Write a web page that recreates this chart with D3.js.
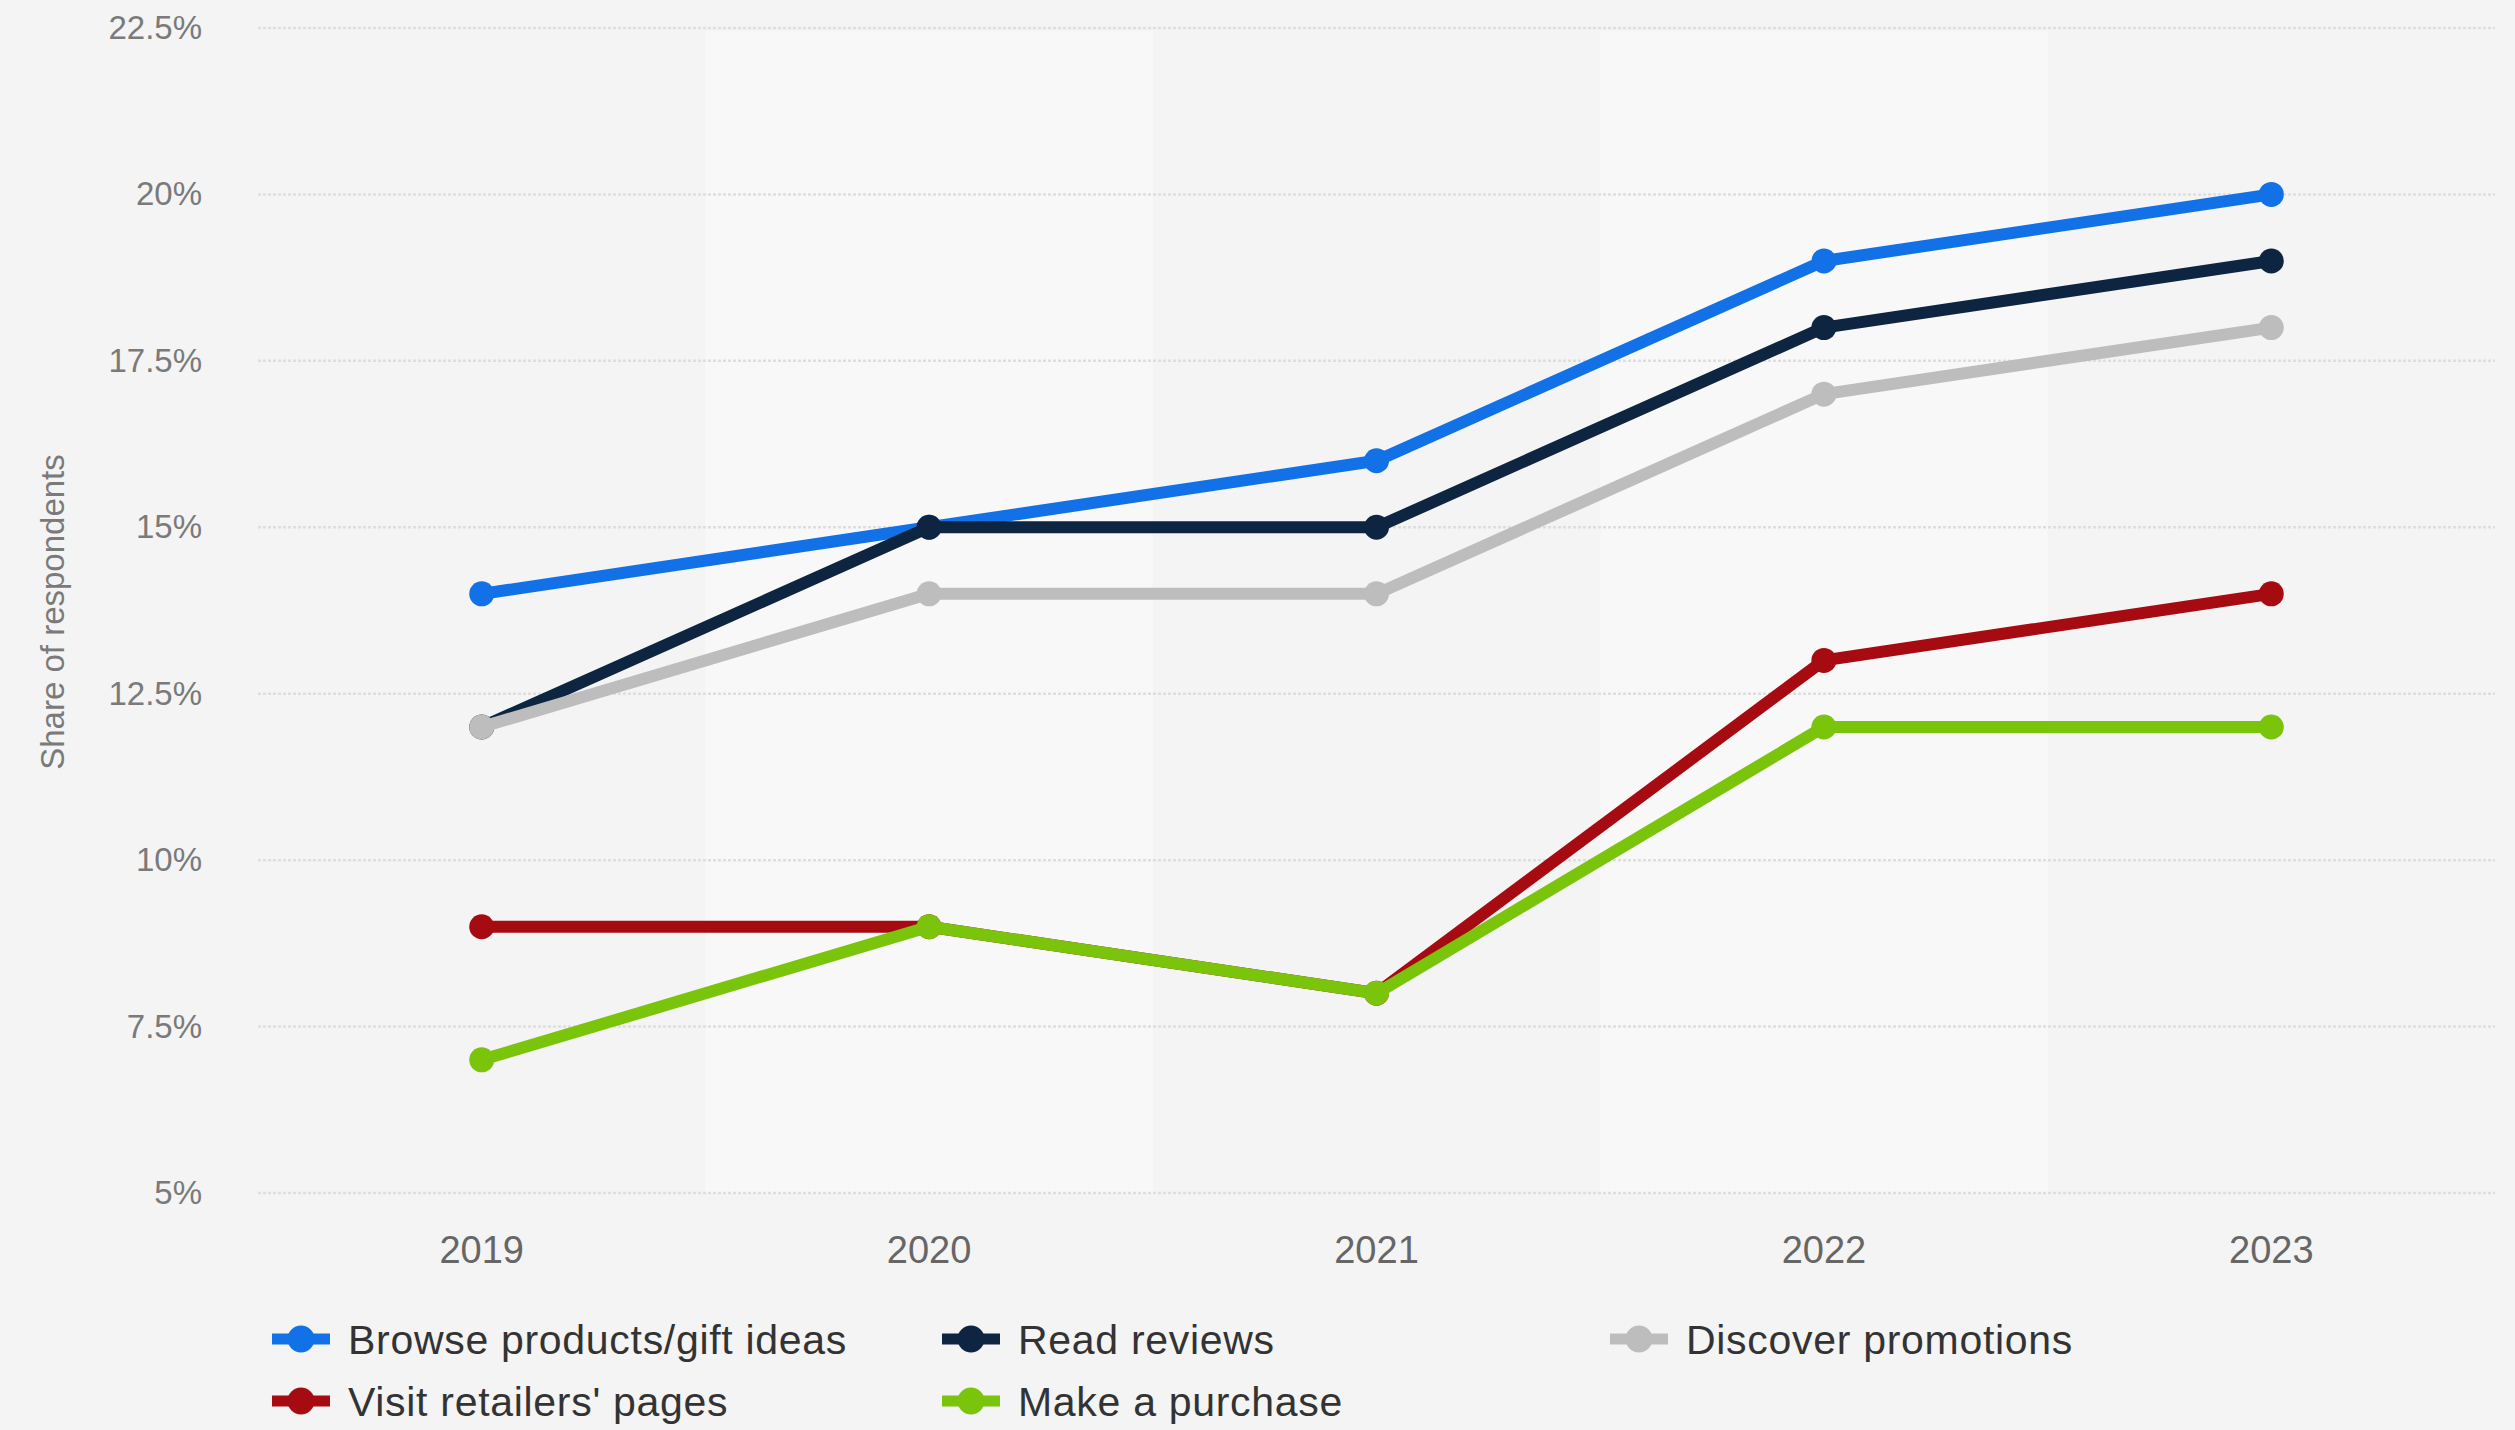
<!DOCTYPE html>
<html>
<head>
<meta charset="utf-8">
<script src="https://cdn.jsdelivr.net/npm/d3@7/dist/d3.min.js"></script>
<style>
  html, body { margin: 0; padding: 0; background: #f4f4f4; }
  svg { display: block; }
  text { font-family: "Liberation Sans", Arial, Helvetica, sans-serif; }
</style>
</head>
<body>
<svg id="chart" width="2515" height="1430"></svg>
<script>
// Survey years
const years = ["2019", "2020", "2021", "2022", "2023"];

// Share of respondents (%) per activity
const browseProducts   = [14, 15, 16, 19, 20];
const readReviews      = [12, 15, 15, 18, 19];
const discoverPromos   = [12, 14, 14, 17, 18];
const visitRetailers   = [9, 9, 8, 13, 14];
const makePurchase     = [7, 9, 8, 12, 12];

const seriesNames  = ["Browse products/gift ideas", "Read reviews", "Discover promotions", "Visit retailers' pages", "Make a purchase"];
const seriesValues = [browseProducts, readReviews, discoverPromos, visitRetailers, makePurchase];
const seriesColors = ["#1271e6", "#0e2541", "#bdbdbd", "#a70b12", "#7bc40c"];

// Y axis ticks
const yTicks = [5, 7.5, 10, 12.5, 15, 17.5, 20, 22.5];
const yTickLabels = ["5%", "7.5%", "10%", "12.5%", "15%", "17.5%", "20%", "22.5%"];

const svg = d3.select("#chart");
const W = 2515, H = 1430;
const plot = { left: 258, right: 2495, top: 28, bottom: 1193 };

svg.append("rect").attr("width", W).attr("height", H).attr("fill", "#f4f4f4");

const x = d3.scaleBand().domain(years).range([plot.left, plot.right]).padding(0);
const xc = d => x(d) + x.bandwidth() / 2;
const y = d3.scaleLinear().domain([5, 22.5]).range([plot.bottom, plot.top]);

// alternating column shading
svg.append("g").selectAll("rect")
  .data(years.filter((d, i) => i % 2 === 1))
  .join("rect")
  .attr("x", d => x(d))
  .attr("y", y(22.5) + 3)
  .attr("width", x.bandwidth())
  .attr("height", y(5) - y(22.5) - 3)
  .attr("fill", "#f8f8f8");

// horizontal gridlines
svg.append("g").selectAll("line")
  .data(yTicks)
  .join("line")
  .attr("x1", plot.left).attr("x2", plot.right)
  .attr("y1", d => y(d)).attr("y2", d => y(d))
  .attr("stroke", "#dedede")
  .attr("stroke-width", 2.5)
  .attr("stroke-dasharray", "3,2");

// y axis tick labels
const yAxis = d3.axisLeft(y).tickValues(yTicks)
  .tickFormat((d, i) => yTickLabels[i]).tickSize(0).tickPadding(0);
const gy = svg.append("g").attr("transform", "translate(202,0)").call(yAxis);
gy.select(".domain").remove();
gy.selectAll("text")
  .attr("font-size", 33)
  .attr("fill", "#7a7a7a")
  .attr("font-family", "Liberation Sans, Arial, sans-serif");

// x axis tick labels
const xAxis = d3.axisBottom(x).tickSize(0).tickPadding(0);
const gx = svg.append("g").attr("transform", "translate(0,1236)").call(xAxis);
gx.select(".domain").remove();
gx.selectAll("text")
  .attr("dy", "0.71em")
  .attr("font-size", 38)
  .attr("fill", "#666666")
  .attr("font-family", "Liberation Sans, Arial, sans-serif");

// y axis title
svg.append("text")
  .attr("transform", "translate(64,612) rotate(-90)")
  .attr("text-anchor", "middle")
  .attr("font-size", 33)
  .attr("fill", "#7a7a7a")
  .text("Share of respondents");

// series lines and markers
const line = d3.line().x((d, i) => xc(years[i])).y(d => y(d));
const gs = svg.append("g");
seriesValues.forEach((vals, s) => {
  const g = gs.append("g");
  g.append("path")
    .attr("d", line(vals))
    .attr("fill", "none")
    .attr("stroke", seriesColors[s])
    .attr("stroke-width", 12)
    .attr("stroke-linejoin", "round");
  g.selectAll("circle")
    .data(vals)
    .join("circle")
    .attr("cx", (d, i) => xc(years[i]))
    .attr("cy", d => y(d))
    .attr("r", 12.5)
    .attr("fill", seriesColors[s]);
});

// legend
const legendCols = [272, 942, 1610];
const legendRows = [1339, 1401];
const lg = svg.append("g");
seriesNames.forEach((name, i) => {
  const lx = legendCols[i % 3], ly = legendRows[Math.floor(i / 3)];
  const item = lg.append("g").attr("transform", `translate(${lx},${ly})`);
  item.append("line")
    .attr("x1", 0).attr("x2", 58).attr("y1", 0).attr("y2", 0)
    .attr("stroke", seriesColors[i]).attr("stroke-width", 11);
  item.append("circle").attr("cx", 29).attr("cy", 0).attr("r", 13.5).attr("fill", seriesColors[i]);
  item.append("text")
    .attr("x", 76).attr("y", 0).attr("dy", "0.36em")
    .attr("font-size", 41)
    .attr("letter-spacing", 0.7)
    .attr("fill", "#333333")
    .text(name);
});
</script>
</body>
</html>
